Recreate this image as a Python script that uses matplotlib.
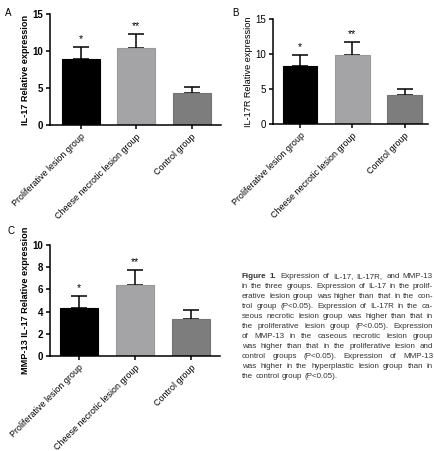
import matplotlib.pyplot as plt

plt.rcParams['font.family'] = ['Liberation Sans', 'DejaVu Sans']

groups = ['Proliferative lesion group', 'Cheese necrotic lesion group', 'Control group']
il17 = [8.9, 10.35, 4.3]
il17_err = [1.6, 1.9, 0.9]
il17r = [8.25, 9.9, 4.15]
il17r_err = [1.55, 1.8, 0.8]
mmp13 = [4.35, 6.38, 3.3]
mmp13_err = [1.05, 1.35, 0.85]
stars = ['*', '**', '']

caption = [
    "Figure 1. Expression of IL-17, IL-17R, and MMP-13",
    "in the three groups. Expression of IL-17 in the prolif-",
    "erative lesion group was higher than that in the con-",
    "trol group (P<0.05). Expression of IL-17R in the ca-",
    "seous necrotic lesion group was higher than that in",
    "the proliferative lesion group (P<0.05). Expression",
    "of MMP-13 in the caseous necrotic lesion group",
    "was higher than that in the proliferative lesion and",
    "control groups (P<0.05). Expression of MMP-13",
    "was higher in the hyperplastic lesion group than in",
    "the control group (P<0.05).",
]

colors = ['#000000', '#a4a4a7', '#7d7d7d']
W, H = 435, 451
fig = plt.figure(figsize=(W / 100, H / 100), dpi=100)


def panel(rect, vals, errs, ylabel, ymax, step, xlim, width, bold):
    ax = fig.add_axes(rect)
    x = range(len(vals))
    ax.bar(x, vals, width=width, color=colors, edgecolor=['#000000', '#9a9a9d', '#747474'], linewidth=0.8, zorder=2)
    ax.errorbar(x, vals, yerr=[[0] * len(vals), errs], fmt='none', ecolor='black',
                elinewidth=1.1, capsize=5.5, capthick=1.1, zorder=1)
    for i, s in enumerate(stars):
        if s:
            ax.annotate(s, (i, vals[i] + errs[i]), xytext=(0, 2.5), textcoords='offset points',
                        ha='center', va='bottom', fontsize=7.5)
    ax.set_ylim(0, ymax)
    ax.set_yticks(range(0, ymax + 1, step))
    ax.set_xlim(*xlim)
    ax.set_xticks(list(x))
    ax.set_xticklabels(groups, rotation=45, ha='right', rotation_mode='anchor', fontsize=6.4)
    for lab in ax.get_yticklabels():
        lab.set_fontsize(7)
        lab.set_fontweight('bold' if bold else 'normal')
    ax.set_ylabel(ylabel, fontsize=6.6, fontweight='bold' if bold else 'normal', labelpad=2)
    for sp in ['top', 'right']:
        ax.spines[sp].set_visible(False)
    for sp in ['left', 'bottom']:
        ax.spines[sp].set_linewidth(1.1)
    ax.tick_params(width=1.1, length=3, pad=2)
    return ax


panel([50 / W, 1 - 125 / H, 171 / W, 111 / H], il17, il17_err, 'IL-17 Relative expression',
      15, 5, (-0.56, 2.53), 0.69, True)
panel([273 / W, 1 - 124 / H, 155 / W, 105 / H], il17r, il17r_err, 'IL-17R Relative expression',
      15, 5, (-0.52, 2.45), 0.66, False)
panel([50 / W, 1 - 356 / H, 170 / W, 111 / H], mmp13, mmp13_err, 'MMP-13 IL-17 Relative expression',
      10, 2, (-0.51, 2.52), 0.68, True)

fig.text(5 / W, 1 - 13 / H, 'A', fontsize=7, va='center')
fig.text(232 / W, 1 - 13 / H, 'B', fontsize=7, va='center')
fig.text(8 / W, 1 - 231 / H, 'C', fontsize=7, va='center')

# justified caption
renderer = fig.canvas.get_renderer()
x0, x1 = 242, 433
fs = 5.8
for li, line in enumerate(caption):
    y = 1 - (277 + 10 * li) / H
    words = line.split(' ')
    texts = []
    for wi, w in enumerate(words):
        bold = li == 0 and wi < 2
        t = fig.text(0, y, w, fontsize=fs, va='center', ha='left', color='#333333',
                     fontweight='bold' if bold else 'normal')
        texts.append(t)
    widths = [t.get_window_extent(renderer).width for t in texts]
    if li == len(caption) - 1:
        gap = fs * 0.28 * 100 / 72
    else:
        gap = (x1 - x0 - sum(widths)) / (len(words) - 1)
    xp = x0
    for t, wd in zip(texts, widths):
        t.set_x(xp / W)
        xp += wd + gap

fig.savefig('out.png', dpi=100)
